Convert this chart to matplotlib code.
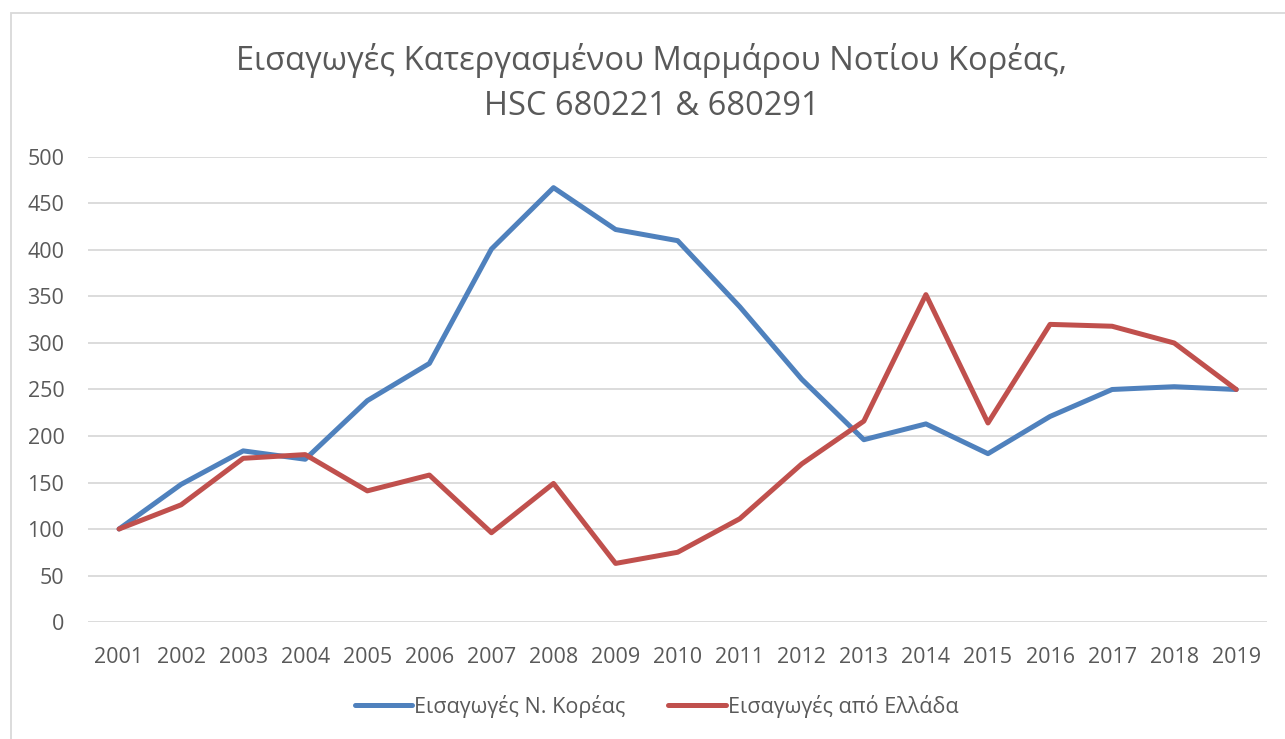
import matplotlib
matplotlib.use("Agg")
import matplotlib.pyplot as plt
from matplotlib.patches import Rectangle

# Data (index, 2001 = 100)
years = [str(y) for y in range(2001, 2020)]
korea_imports = [100, 148, 184, 175, 238, 278, 401, 467, 422, 410,
                 339, 261, 196, 213, 181, 221, 250, 253, 250]
greece_imports = [100, 126, 176, 180, 141, 158, 96, 149, 63, 75,
                  111, 170, 216, 352, 214, 320, 318, 300, 250]

TITLE = "Εισαγωγές Κατεργασμένου Μαρμάρου Νοτίου Κορέας,\nHSC 680221 & 680291"
LABEL_KOREA = "Εισαγωγές Ν. Κορέας"
LABEL_GREECE = "Εισαγωγές από Ελλάδα"

TEXT_COLOR = "#595959"
GRID_COLOR = "#d9d9d9"

plt.rcParams['font.family'] = ['Open Sans', 'DejaVu Sans']

fig = plt.figure(figsize=(12.85, 7.39), dpi=100)
ax = fig.add_axes([0.0685, 0.1583, 0.9177, 0.6293])

x = list(range(len(years)))
ax.plot(x, korea_imports, color="#4f81bd", linewidth=3.6,
        solid_capstyle="round", solid_joinstyle="round", label=LABEL_KOREA)
ax.plot(x, greece_imports, color="#c0504d", linewidth=3.6,
        solid_capstyle="round", solid_joinstyle="round", label=LABEL_GREECE)

ax.set_xlim(-0.5, len(years) - 0.5)
ax.set_ylim(0, 500)
ax.set_yticks(range(0, 501, 50))
ax.set_xticks(x)
ax.set_xticklabels(years)
ax.yaxis.grid(True, color=GRID_COLOR, linewidth=1.3)
ax.set_axisbelow(True)
for side in ["top", "right", "left", "bottom"]:
    ax.spines[side].set_visible(False)
ax.tick_params(axis="both", length=0, labelsize=15.5, colors=TEXT_COLOR)
ax.tick_params(axis="y", pad=17)
ax.tick_params(axis="x", pad=18)

fig.text(0.507, 0.888, TITLE, ha="center", va="center", fontsize=23.5,
         color=TEXT_COLOR, linespacing=1.5)

leg = fig.legend(loc="center", bbox_to_anchor=(0.511, 0.044), ncol=2,
                 frameon=False, fontsize=15.5, handlelength=2.65,
                 handletextpad=0.1, columnspacing=2.0)
for t in leg.get_texts():
    t.set_color(TEXT_COLOR)

# chart area border
fig.patches.append(Rectangle((11 / 1285, -0.1), 1.2, 1.1 - 13 / 739,
                             transform=fig.transFigure, fill=False,
                             edgecolor=GRID_COLOR, linewidth=1.3))

fig.savefig("out.png", dpi=100)
